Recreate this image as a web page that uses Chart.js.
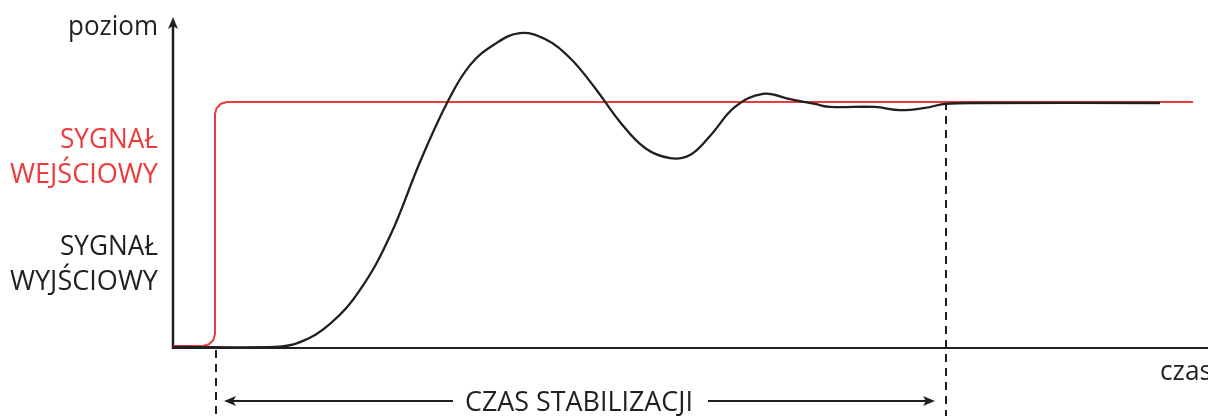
<!DOCTYPE html>
<html>
<head>
<meta charset="utf-8">
<script src="https://cdn.jsdelivr.net/npm/chart.js@4"></script>
<style>
  html, body { margin: 0; padding: 0; background: #fff; }
  canvas { display: block; }
</style>
</head>
<body>
<canvas id="chartStabilizacja" width="1208" height="416"></canvas>
<script>
// czas (jednostki umowne) i poziom (1 = wartość zadana)
const czasWyjscie = [0, 10.2, 12.7, 15.7, 18.7, 21.7, 24.7, 27.4, 29.7, 32.2, 34.7, 37.2, 39.7, 42.2, 44.7, 47.2, 49.7, 51.7, 53.7, 56.2, 59.0, 61.7, 64.2, 65.7, 70.2, 72.7, 75.2, 77.2, 80.7, 98.7];
const poziomWyjscie = [0.004, 0.004, 0.024, 0.098, 0.236, 0.455, 0.756, 0.996, 1.150, 1.236, 1.280, 1.256, 1.179, 1.057, 0.919, 0.813, 0.772, 0.785, 0.862, 0.980, 1.033, 1.012, 0.992, 0.980, 0.980, 0.967, 0.976, 0.992, 0.996, 0.996];

const czasWejscie = [0, 3.0, 3.6, 4.04, 4.2, 4.2, 4.36, 4.8, 5.4, 102.0];
const poziomWejscie = [0.008, 0.008, 0.015, 0.033, 0.057, 0.951, 0.976, 0.993, 1.0, 1.0];

const czasSkoku = 4.3;         // początek (skok sygnału wejściowego)
const czasUstalenia = 77.3;    // koniec czasu stabilizacji

const CZARNY = '#231f20';
const CZERWONY = '#ee3a3a';

function punkty(xs, ys) {
    return xs.map((x, i) => ({ x: x, y: ys[i] }));
}

// rysuje tekst ściśnięty do zadanej szerokości (krój zbliżony do Myriad)
function tekst(ctx, txt, x, y, rozmiar, kolor, szer, align) {
    ctx.save();
    ctx.font = rozmiar + 'px "Open Sans"';
    ctx.fillStyle = kolor;
    ctx.textBaseline = 'alphabetic';
    const w = ctx.measureText(txt).width;
    const sx = szer / w;
    let x0 = x;
    if (align === 'right') x0 = x - szer;
    if (align === 'center') x0 = x - szer / 2;
    ctx.translate(x0, y);
    ctx.scale(sx, 1);
    ctx.textAlign = 'left';
    ctx.fillText(txt, 0, 0);
    ctx.restore();
}

function grot(ctx, x, y, kier) {
    // kier: 'up', 'left', 'right'
    ctx.beginPath();
    if (kier === 'up') {
        ctx.moveTo(x, y);
        ctx.lineTo(x - 5, y + 12);
        ctx.lineTo(x, y + 9);
        ctx.lineTo(x + 5, y + 12);
    } else if (kier === 'left') {
        ctx.moveTo(x, y);
        ctx.lineTo(x + 12, y - 5);
        ctx.lineTo(x + 9, y);
        ctx.lineTo(x + 12, y + 5);
    } else {
        ctx.moveTo(x, y);
        ctx.lineTo(x - 12, y - 5);
        ctx.lineTo(x - 9, y);
        ctx.lineTo(x - 12, y + 5);
    }
    ctx.closePath();
    ctx.fill();
}

// osie, linie przerywane, strzałka i opisy
const opisy = {
    id: 'opisy',
    beforeDatasetsDraw(chart) {
        const ctx = chart.ctx;
        const area = chart.chartArea;
        const sx = chart.scales.x;
        const sy = chart.scales.y;
        const x0 = area.left;
        const y0 = sy.getPixelForValue(0);

        ctx.save();
        ctx.strokeStyle = CZARNY;
        ctx.fillStyle = CZARNY;

        // oś pozioma
        ctx.lineWidth = 2;
        ctx.beginPath();
        ctx.moveTo(x0, y0);
        ctx.lineTo(chart.width, y0);
        ctx.stroke();

        // oś pionowa ze strzałką
        ctx.lineWidth = 2.5;
        ctx.beginPath();
        ctx.moveTo(x0, y0 + 1);
        ctx.lineTo(x0, area.top + 4);
        ctx.stroke();
        grot(ctx, x0, area.top - 1, 'up');

        // linie przerywane
        ctx.lineWidth = 2;
        ctx.setLineDash([8, 6]);
        const xa = sx.getPixelForValue(czasSkoku);
        const xb = sx.getPixelForValue(czasUstalenia);
        ctx.beginPath();
        ctx.moveTo(xa, y0 + 2);
        ctx.lineTo(xa, chart.height);
        ctx.moveTo(xb, sy.getPixelForValue(1));
        ctx.lineTo(xb, chart.height);
        ctx.stroke();
        ctx.setLineDash([]);

        // strzałka czasu stabilizacji
        const ya = 401;
        ctx.lineWidth = 2;
        ctx.beginPath();
        ctx.moveTo(xa + 10, ya);
        ctx.lineTo(453, ya);
        ctx.moveTo(708, ya);
        ctx.lineTo(xb - 14, ya);
        ctx.stroke();
        grot(ctx, xa + 8, ya, 'left');
        grot(ctx, xb - 11, ya, 'right');
        ctx.restore();

        tekst(ctx, 'CZAS STABILIZACJI', 579, 411, 28, CZARNY, 228, 'center');
        tekst(ctx, 'poziom', 158, 35, 28, CZARNY, 90, 'right');
        tekst(ctx, 'SYGNAŁ', 158, 148, 28, CZERWONY, 98, 'right');
        tekst(ctx, 'WEJŚCIOWY', 158, 183, 28, CZERWONY, 148, 'right');
        tekst(ctx, 'SYGNAŁ', 158, 255, 28, CZARNY, 98, 'right');
        tekst(ctx, 'WYJŚCIOWY', 158, 290, 28, CZARNY, 148, 'right');
        tekst(ctx, 'czas', 1160, 380, 28, CZARNY, 52, 'left');
    }
};

const canvas = document.getElementById('chartStabilizacja');

new Chart(canvas, {
    type: 'line',
    data: {
        datasets: [
            {
                label: 'sygnał wyjściowy',
                data: punkty(czasWyjscie, poziomWyjscie),
                borderColor: CZARNY,
                borderWidth: 2.3,
                pointRadius: 0,
                tension: 0.4,
                fill: false,
                clip: false,
                order: 1
            },
            {
                label: 'sygnał wejściowy',
                data: punkty(czasWejscie, poziomWejscie),
                borderColor: CZERWONY,
                borderWidth: 2,
                pointRadius: 0,
                tension: 0,
                fill: false,
                clip: false,
                order: 2
            }
        ]
    },
    options: {
        responsive: false,
        animation: false,
        devicePixelRatio: 1,
        layout: {
            padding: { left: 173, right: 0, top: 18, bottom: 68 }
        },
        plugins: {
            legend: { display: false },
            tooltip: { enabled: false }
        },
        scales: {
            x: { type: 'linear', display: false, min: 0, max: 103.5 },
            y: { display: false, min: 0, max: 1.3415 }
        }
    },
    plugins: [opisy]
});
</script>
</body>
</html>
